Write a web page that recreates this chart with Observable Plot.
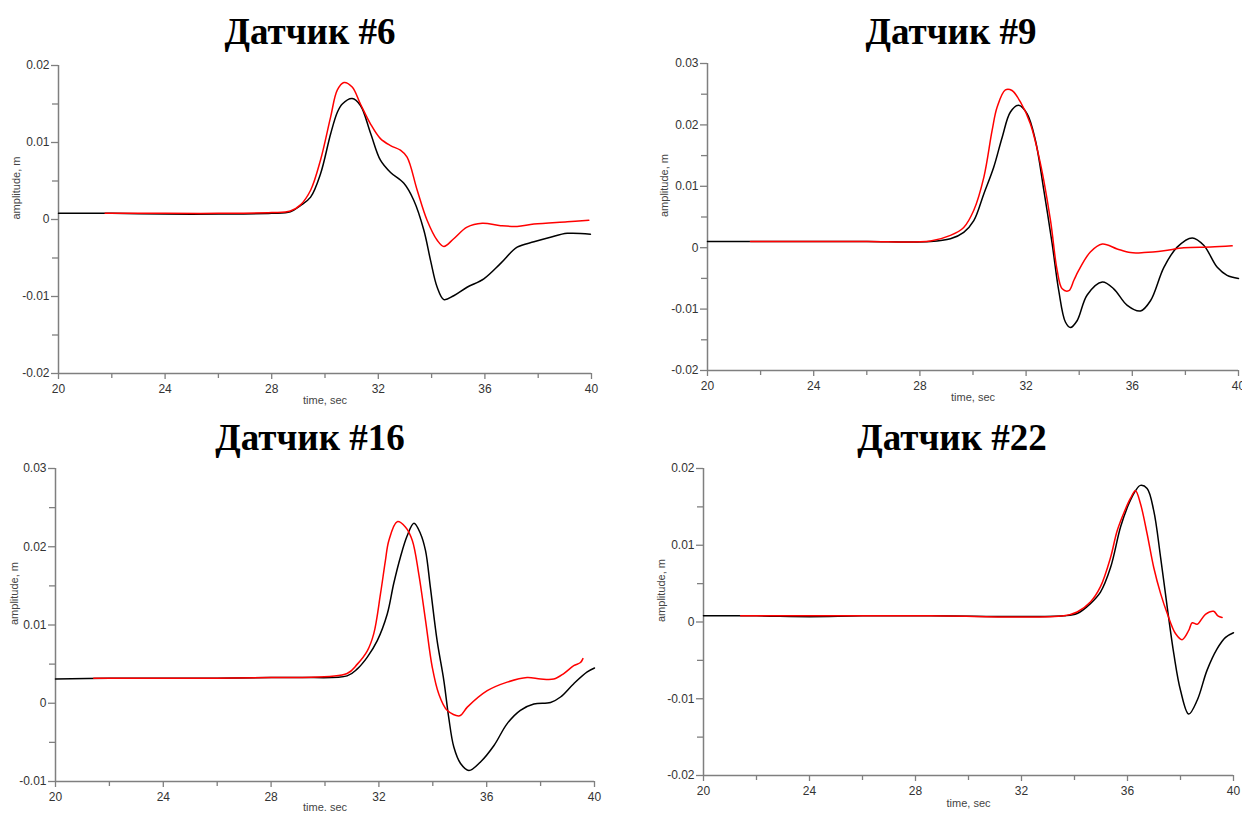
<!DOCTYPE html>
<html>
<head>
<meta charset="utf-8">
<script src="https://cdn.jsdelivr.net/npm/d3@7"></script>
<script src="https://cdn.jsdelivr.net/npm/@observablehq/plot@0.6"></script>
<style>
  html, body { margin: 0; padding: 0; background: #fff; overflow: hidden; }
  #page { position: relative; width: 1242px; height: 816px; background: #fff; }
  .title { position: absolute; width: 400px; text-align: center; font-family: "Liberation Serif", "Times New Roman", serif; font-weight: bold; font-size: 37px; line-height: 37px; color: #000; white-space: nowrap; }
  .panel { position: absolute; }
  .panel svg { overflow: visible; }
</style>
</head>
<body>
<div id="page"></div>
<script>
// ---------- shared tick labels ----------
const xTicksMajor = [20, 24, 28, 32, 36, 40];
const xTicksMinor = [22, 26, 30, 34, 38];

// ---------- Датчик #6 ----------
const s6Title = "Датчик #6";
const s6XLabel = "time, sec";
const s6YTicksMajor = [-0.02, -0.01, 0, 0.01, 0.02];
const s6YTicksMinor = [-0.015, -0.005, 0.005, 0.015];
const s6BlackT = [20, 22, 24, 26, 28, 28.7, 29.08, 29.46, 29.83, 30.21, 30.46, 30.65, 31.02, 31.33, 31.71, 32.08, 32.46, 32.96, 33.33, 33.71, 33.96, 34.21, 34.46, 34.83, 35.33, 35.96, 36.59, 37.21, 37.84, 38.46, 39.09, 39.96];
const s6BlackY = [0.0008, 0.0008, 0.0007, 0.0007, 0.0008, 0.0010, 0.0018, 0.0029, 0.0059, 0.0111, 0.0139, 0.0150, 0.0157, 0.0148, 0.0112, 0.0077, 0.0061, 0.0047, 0.0025, -0.0014, -0.0053, -0.0088, -0.0104, -0.0099, -0.0088, -0.0077, -0.0057, -0.0036, -0.0029, -0.0023, -0.0018, -0.0019];
const s6RedT = [21.75, 24, 26, 28, 28.7, 29.08, 29.46, 29.83, 30.21, 30.46, 30.71, 31.02, 31.33, 31.71, 32.08, 32.46, 32.83, 33.08, 33.46, 33.83, 34.21, 34.46, 34.83, 35.33, 35.90, 36.59, 37.21, 37.84, 39.09, 39.9];
const s6RedY = [0.0008, 0.0008, 0.0008, 0.0009, 0.0011, 0.0019, 0.0038, 0.0077, 0.0133, 0.0168, 0.0178, 0.0172, 0.0150, 0.0124, 0.0105, 0.0096, 0.0090, 0.0081, 0.0038, -0.0001, -0.0027, -0.0035, -0.0025, -0.0010, -0.0005, -0.0008, -0.0009, -0.0006, -0.0003, -0.0001];

// ---------- Датчик #9 ----------
const s9Title = "Датчик #9";
const s9XLabel = "time, sec";
const s9YTicksMajor = [-0.02, -0.01, 0, 0.01, 0.02, 0.03];
const s9YTicksMinor = [-0.015, -0.005, 0.005, 0.015, 0.025];
const s9BlackT = [20, 22, 24, 26, 28.4, 29.15, 29.65, 30.03, 30.41, 30.78, 31.10, 31.41, 31.72, 32.04, 32.35, 32.67, 32.98, 33.23, 33.48, 33.67, 33.92, 34.30, 34.87, 35.30, 35.81, 36.31, 36.69, 37.19, 37.69, 38.26, 38.69, 39.20, 39.57, 40.0];
const s9BlackY = [0.0010, 0.0010, 0.0010, 0.0010, 0.0010, 0.00145, 0.0025, 0.0044, 0.0088, 0.0131, 0.0180, 0.0221, 0.0232, 0.0218, 0.0175, 0.0093, 0.0007, -0.0070, -0.0121, -0.0130, -0.0119, -0.0077, -0.0056, -0.0067, -0.0094, -0.0103, -0.0086, -0.0032, 0.0001, 0.0016, 0.0004, -0.0032, -0.0045, -0.0050];
const s9RedT = [21.62, 24, 26, 28.4, 29.15, 29.65, 30.03, 30.41, 30.72, 30.91, 31.22, 31.47, 31.79, 32.16, 32.54, 32.92, 33.17, 33.36, 33.61, 33.80, 33.98, 34.42, 34.87, 35.43, 35.93, 36.44, 37.19, 37.94, 38.95, 39.76];
const s9RedY = [0.0010, 0.0010, 0.0010, 0.0011, 0.0020, 0.0033, 0.0061, 0.0115, 0.0191, 0.0229, 0.0257, 0.0256, 0.0237, 0.0202, 0.0137, 0.0044, -0.0037, -0.0067, -0.0070, -0.0053, -0.0037, -0.0007, 0.0006, -0.0002, -0.0008, -0.0008, -0.0005, 0.0000, 0.0001, 0.0003];

// ---------- Датчик #16 ----------
const s16Title = "Датчик #16";
const s16XLabel = "time. sec";
const s16YTicksMajor = [-0.01, 0, 0.01, 0.02, 0.03];
const s16YTicksMinor = [-0.005, 0.005, 0.015, 0.025];
const s16BlackT = [20, 22, 24, 26, 28, 29.09, 30.82, 31.20, 31.57, 31.94, 32.31, 32.55, 32.80, 33.05, 33.30, 33.54, 33.73, 33.91, 34.16, 34.41, 34.59, 34.78, 35.03, 35.34, 35.77, 36.27, 36.76, 37.25, 37.75, 38.37, 38.74, 39.23, 39.73, 40.0];
const s16BlackY = [0.0031, 0.0032, 0.0032, 0.0032, 0.0033, 0.0033, 0.0035, 0.0044, 0.0059, 0.0080, 0.0114, 0.0153, 0.0187, 0.0214, 0.0230, 0.0217, 0.0195, 0.0148, 0.0080, 0.0029, -0.0018, -0.0056, -0.0077, -0.0086, -0.0075, -0.0054, -0.0026, -0.0009, -0.0001, 0.0001, 0.0008, 0.0025, 0.0040, 0.0045];
const s16RedT = [21.42, 24, 26, 28, 29.09, 30.82, 31.20, 31.57, 31.81, 32.06, 32.24, 32.37, 32.68, 32.99, 33.24, 33.48, 33.73, 33.98, 34.22, 34.53, 35.0, 35.28, 36.02, 36.76, 37.50, 38.0, 38.49, 38.86, 39.23, 39.48, 39.57];
const s16RedY = [0.0032, 0.0032, 0.0032, 0.0033, 0.0033, 0.0038, 0.0050, 0.0067, 0.0089, 0.0140, 0.0182, 0.0208, 0.0232, 0.0225, 0.0208, 0.0165, 0.0106, 0.0046, 0.0012, -0.0009, -0.0016, -0.0005, 0.0016, 0.0027, 0.0033, 0.0031, 0.0031, 0.0038, 0.0048, 0.0052, 0.0057];

// ---------- Датчик #22 ----------
const s22Title = "Датчик #22";
const s22XLabel = "time, sec";
const s22YTicksMajor = [-0.02, -0.01, 0, 0.01, 0.02];
const s22YTicksMinor = [-0.015, -0.005, 0.005, 0.015];
const s22BlackT = [20, 22, 24, 26, 28.57, 33.6, 34.10, 34.60, 34.98, 35.36, 35.74, 36.05, 36.30, 36.49, 36.74, 36.99, 37.25, 37.50, 37.75, 38.00, 38.31, 38.63, 39.0, 39.38, 39.70, 40.0];
const s22BlackY = [0.0008, 0.0008, 0.0007, 0.0008, 0.0008, 0.0008, 0.0011, 0.0024, 0.0039, 0.0071, 0.0124, 0.0154, 0.0171, 0.0178, 0.0174, 0.0145, 0.0084, 0.0019, -0.0042, -0.0089, -0.0120, -0.0102, -0.0063, -0.0035, -0.0020, -0.0014];
const s22RedT = [21.4, 26, 28.57, 33.6, 34.10, 34.60, 34.98, 35.36, 35.61, 35.92, 36.11, 36.30, 36.49, 36.74, 36.99, 37.25, 37.50, 37.81, 38.06, 38.31, 38.44, 38.63, 38.94, 39.25, 39.41, 39.57];
const s22RedY = [0.0008, 0.0008, 0.0008, 0.0008, 0.0013, 0.0026, 0.0046, 0.0084, 0.0119, 0.0147, 0.0161, 0.0171, 0.0154, 0.0115, 0.0071, 0.0037, 0.0011, -0.0015, -0.0023, -0.0011, -0.0001, -0.0003, 0.0010, 0.0014, 0.0008, 0.0006];

const yLabel = "amplitude, m";

function pts(ts, ys) { return ts.map((t, i) => ({t, y: ys[i]})); }

function panel(cfg) {
  const axisColor = "#7f7f7f";
  const textColor = "#333";
  const fmt = d => String(+(+d).toFixed(3));
  const xDom = [xTicksMajor[0], xTicksMajor[xTicksMajor.length - 1]];
  const yDom = [cfg.yMajor[0], cfg.yMajor[cfg.yMajor.length - 1]];
  const plot = Plot.plot({
    width: cfg.width, height: cfg.height,
    marginLeft: cfg.ml, marginRight: cfg.mr, marginTop: cfg.mt, marginBottom: cfg.mb,
    style: {background: "none", overflow: "visible", maxWidth: "none", fontFamily: "'Liberation Sans', Arial, sans-serif"},
    x: {domain: xDom},
    y: {domain: yDom},
    marks: [
      Plot.axisY(cfg.yMajor, {tickSize: 7, tickPadding: 2, tickFormat: fmt, stroke: axisColor, strokeWidth: 1.3, fill: textColor, fontSize: 12, label: null}),
      Plot.axisY(cfg.yMinor, {tickSize: 6, tickFormat: () => "", stroke: axisColor, strokeWidth: 1.3, label: null}),
      Plot.axisX(xTicksMajor, {tickSize: 6, tickPadding: 5, tickFormat: fmt, stroke: axisColor, strokeWidth: 1.3, fill: textColor, fontSize: 12, label: null}),
      Plot.axisX(xTicksMinor, {tickSize: 5, tickFormat: () => "", stroke: axisColor, strokeWidth: 1.3, label: null}),
      Plot.ruleX([xDom[0]], {stroke: axisColor, strokeWidth: 1.5}),
      Plot.ruleY([yDom[0]], {stroke: axisColor, strokeWidth: 1.5}),
      Plot.text([yLabel], {text: d => d, frameAnchor: "left", rotate: -90, dx: -(cfg.ml - cfg.ylx), fontSize: 11, fill: "#444"}),
      Plot.text([cfg.xLabel], {text: d => d, frameAnchor: "bottom", dy: cfg.xly, fontSize: 11, fill: "#444"}),
      Plot.line(pts(cfg.blackT, cfg.blackY), {x: "t", y: "y", stroke: "#000", strokeWidth: 1.5, curve: "catmull-rom"}),
      Plot.line(pts(cfg.redT, cfg.redY), {x: "t", y: "y", stroke: "#ff0000", strokeWidth: 1.5, curve: "catmull-rom"})
    ]
  });
  const div = document.createElement("div");
  div.className = "panel";
  div.style.left = cfg.left + "px";
  div.style.top = cfg.top + "px";
  div.style.width = cfg.width + "px";
  div.appendChild(plot);
  const title = document.createElement("div");
  title.className = "title";
  title.textContent = cfg.title;
  title.style.left = (cfg.tcx - 200) + "px";
  title.style.top = cfg.tTop + "px";
  const page = document.getElementById("page");
  page.appendChild(title);
  page.appendChild(div);
}

panel({title: s6Title, tcx: 310, tTop: 13, left: 0, top: 55, width: 610, height: 358, ml: 58, mr: 19, mt: 10, mb: 40, ylx: 16, xly: 30,
  yMajor: s6YTicksMajor, yMinor: s6YTicksMinor, xLabel: s6XLabel, blackT: s6BlackT, blackY: s6BlackY, redT: s6RedT, redY: s6RedY});
panel({title: s9Title, tcx: 951, tTop: 13, left: 640, top: 55, width: 602, height: 355, ml: 67, mr: 4, mt: 8, mb: 40, ylx: 24, xly: 30,
  yMajor: s9YTicksMajor, yMinor: s9YTicksMinor, xLabel: s9XLabel, blackT: s9BlackT, blackY: s9BlackY, redT: s9RedT, redY: s9RedY});
panel({title: s16Title, tcx: 310, tTop: 419, left: 0, top: 458, width: 612, height: 361, ml: 55, mr: 18, mt: 10, mb: 38, ylx: 14, xly: 29,
  yMajor: s16YTicksMajor, yMinor: s16YTicksMinor, xLabel: s16XLabel, blackT: s16BlackT, blackY: s16BlackY, redT: s16RedT, redY: s16RedY});
panel({title: s22Title, tcx: 952, tTop: 419, left: 640, top: 458, width: 602, height: 357, ml: 63, mr: 9, mt: 10, mb: 40, ylx: 21, xly: 31,
  yMajor: s22YTicksMajor, yMinor: s22YTicksMinor, xLabel: s22XLabel, blackT: s22BlackT, blackY: s22BlackY, redT: s22RedT, redY: s22RedY});
</script>
</body>
</html>
